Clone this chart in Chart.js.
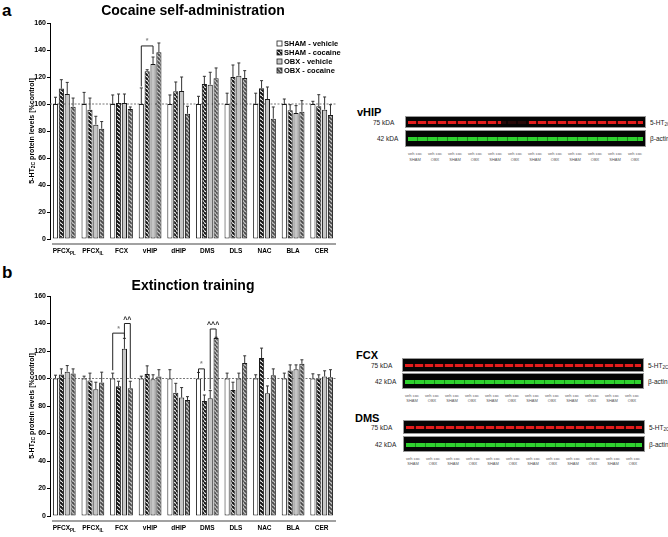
<!DOCTYPE html>
<html>
<head>
<meta charset="utf-8">
<script src="https://cdn.jsdelivr.net/npm/chart.js@4.4.1/dist/chart.umd.min.js"></script>
<style>
  body { margin: 0; width: 668px; height: 537px; background: #fff; position: relative; overflow: hidden;
         font-family: "Liberation Sans", Arial, sans-serif; color: #222; }
  .abs { position: absolute; white-space: nowrap; }
  .letter { font-weight: bold; font-size: 17px; line-height: 17px; color: #000; }
  .btitle { font-weight: bold; font-size: 11px; line-height: 11px; color: #000; }
  .kda { font-size: 6.5px; line-height: 7px; }
  .box { position: absolute; background: #050505; border: 1px solid #999; box-sizing: border-box; }
  .red { position: absolute; left: 2px; right: 2px; height: 3px;
         background: repeating-linear-gradient(90deg, #e41c1c 0 8px, #400 8px 10px); }
  .green { position: absolute; left: 2px; right: 2px; height: 4px;
           background: repeating-linear-gradient(90deg, #2fd12f 0 9px, #178a17 9px 10px); }
  .lane { position: absolute; font-size: 4px; line-height: 5px; color: #555; text-align: center; width: 20px; }
  sub { font-size: 70%; vertical-align: -1px; }
</style>
</head>
<body>
<div class="abs letter" style="left:2px;top:2px">a</div>
<div class="abs letter" style="left:2px;top:264px">b</div>
<canvas id="chartA" width="345" height="262" style="position:absolute;left:0;top:0"></canvas>
<canvas id="chartB" width="345" height="275" style="position:absolute;left:0;top:262px"></canvas>
<div id="blots"></div>

<script>
// Regiões e grupos
const regionNames = ['PFCX', 'PFCX', 'FCX', 'vHIP', 'dHIP', 'DMS', 'DLS', 'NAC', 'BLA', 'CER'];
const regionSubs = ['PL', 'IL', '', '', '', '', '', '', '', ''];
const groupNames = ['SHAM - vehicle', 'SHAM - cocaine', 'OBX - vehicle', 'OBX - cocaine'];

// a) Cocaine self-administration
const selfShamVeh = [100, 100, 100, 100, 100, 100, 100, 100, 100, 100];
const selfShamVehErr = [5, 8.6, 6.7, 11.9, 6.7, 5.7, 8, 8, 3.7, 2];
const selfShamCoc = [111.4, 95.8, 100.7, 124.2, 109.4, 114.8, 120, 111.6, 95.3, 98.3];
const selfShamCocErr = [6.6, 8.6, 6.7, 1.2, 6.9, 5.7, 8.9, 5.7, 4.2, 8.6];
const selfObxVeh = [107.4, 84.7, 100.7, 129.6, 109.6, 114.3, 121, 103.7, 93.3, 95.8];
const selfObxVehErr = [8.6, 6.2, 6.7, 5.2, 10.4, 9.2, 9.4, 8.9, 5.5, 9.4];
const selfObxCoc = [98, 81.7, 96.3, 138.3, 92.8, 119, 119.3, 89.1, 94.3, 91.9];
const selfObxCocErr = [6.4, 5.3, 1.5, 6.9, 5.5, 7.7, 5.4, 8.7, 8.2, 7.6];

// b) Extinction training
const extShamVeh = [100, 100, 100, 100, 100, 100, 100, 100, 100, 100];
const extShamVehErr = [2.4, 1.7, 3.9, 1.7, 6.4, 4.4, 3.9, 2.7, 3.9, 3.4];
const extShamCoc = [103, 98.5, 94.4, 103.2, 89.7, 83.6, 91.7, 114.9, 105.8, 99.8];
const extShamCocErr = [4, 5.4, 3.6, 6, 6.8, 4.4, 5.6, 7.2, 4.1, 2.9];
const extObxVeh = [105, 92.2, 121.6, 99.5, 86.1, 85.6, 100, 89.3, 106.8, 101.5];
const extObxVehErr = [4.4, 5.1, 7.6, 3.2, 7.3, 5.6, 3.9, 5.3, 3.1, 4.1];
const extObxCoc = [103.6, 97.1, 93, 101.5, 84.4, 129.4, 111.2, 102.4, 110.7, 101];
const extObxCocErr = [3.4, 7.5, 5, 4.9, 2.4, 0.6, 5.3, 4.6, 2.9, 5.4];

// Significância: categoria, barras, altura do colchete e das pontas (%control)
const selfBrackets = [
    { cat: 3, from: 0, to: 2, top: 143, leftEnd: 113, rightEnd: 137, mark: '*' }
];
const extBrackets = [
    { cat: 2, from: 0, to: 2, top: 133, leftEnd: 106, rightEnd: 129, mark: '*' },
    { cat: 2, from: 2, to: 3, top: 140, leftEnd: 131, rightEnd: 100, mark: '^^' },
    { cat: 5, from: 0, to: 1, top: 107, leftEnd: 101, rightEnd: 91, mark: '*' },
    { cat: 5, from: 2, to: 3, top: 136, leftEnd: 92, rightEnd: 129, mark: '^^^' }
];

const FONT = '"Liberation Sans", Arial, sans-serif';

// Padrões hachurados
function hatch(bg, fg, size, lw) {
    const c = document.createElement('canvas');
    c.width = size; c.height = size;
    const x = c.getContext('2d');
    x.fillStyle = bg; x.fillRect(0, 0, size, size);
    x.strokeStyle = fg; x.lineWidth = lw;
    x.beginPath();
    for (const k of [-size, 0, size]) { x.moveTo(k, 0); x.lineTo(k + size, size); }
    x.stroke();
    return x.createPattern(c, 'repeat');
}
const fills = [
    '#ffffff',
    hatch('#ffffff', '#111111', 4, 2),
    '#c6c6c6',
    hatch('#c8c8c8', '#4a4a4a', 4, 1.8)
];

function drawYTitle(ctx, x, yc) {
    ctx.save();
    ctx.translate(x, yc);
    ctx.rotate(-Math.PI / 2);
    const big = 'bold 7px ' + FONT, small = 'bold 5px ' + FONT;
    const p1 = '5-HT', p2 = '2C', p3 = ' protein levels [%control]';
    ctx.font = big; const w1 = ctx.measureText(p1).width, w3 = ctx.measureText(p3).width;
    ctx.font = small; const w2 = ctx.measureText(p2).width;
    let cx = -(w1 + w2 + w3) / 2;
    ctx.fillStyle = '#000'; ctx.textBaseline = 'middle'; ctx.textAlign = 'left';
    ctx.font = big; ctx.fillText(p1, cx, 0); cx += w1;
    ctx.font = small; ctx.fillText(p2, cx, 2); cx += w2;
    ctx.font = big; ctx.fillText(p3, cx, 0);
    ctx.restore();
}

function makeDecor(brackets, showLegend) {
    return {
        id: 'prismDecor',
        beforeDatasetsDraw(chart) {
            const { ctx, chartArea, scales } = chart;
            const y = scales.y.getPixelForValue(100);
            ctx.save();
            ctx.strokeStyle = '#777'; ctx.lineWidth = 1; ctx.setLineDash([2, 1.5]);
            ctx.beginPath(); ctx.moveTo(chartArea.left, y); ctx.lineTo(chartArea.right, y); ctx.stroke();
            ctx.restore();
        },
        afterDatasetsDraw(chart) {
            const { ctx, chartArea, scales } = chart;
            const ys = scales.y;
            ctx.save();
            // barras de erro (só para cima)
            ctx.strokeStyle = '#333'; ctx.lineWidth = 1;
            chart.data.datasets.forEach((ds, d) => {
                const meta = chart.getDatasetMeta(d);
                meta.data.forEach((bar, i) => {
                    const yTop = ys.getPixelForValue(ds.data[i]);
                    const yErr = ys.getPixelForValue(ds.data[i] + ds.errors[i]);
                    ctx.beginPath();
                    ctx.moveTo(bar.x, yTop); ctx.lineTo(bar.x, yErr);
                    ctx.moveTo(bar.x - 1.5, yErr); ctx.lineTo(bar.x + 1.5, yErr);
                    ctx.stroke();
                });
            });
            // colchetes de significância
            brackets.forEach(b => {
                const x1 = chart.getDatasetMeta(b.from).data[b.cat].x;
                const x2 = chart.getDatasetMeta(b.to).data[b.cat].x;
                const yt = ys.getPixelForValue(b.top);
                ctx.strokeStyle = '#222'; ctx.lineWidth = 1;
                ctx.beginPath();
                ctx.moveTo(x1, ys.getPixelForValue(b.leftEnd));
                ctx.lineTo(x1, yt); ctx.lineTo(x2, yt);
                ctx.lineTo(x2, ys.getPixelForValue(b.rightEnd));
                ctx.stroke();
                ctx.fillStyle = b.mark === '*' ? '#888' : '#111';
                ctx.font = 'bold 7px ' + FONT;
                ctx.textAlign = 'center'; ctx.textBaseline = 'bottom';
                ctx.fillText(b.mark, (x1 + x2) / 2, yt - (b.mark === '*' ? 1 : 0));
            });
            // eixo x separado e rótulos com subscrito
            const xl = chartArea.bottom + 5;
            ctx.strokeStyle = '#444'; ctx.lineWidth = 1.2;
            ctx.beginPath(); ctx.moveTo(chartArea.left + 2, xl); ctx.lineTo(chartArea.right, xl); ctx.stroke();
            ctx.fillStyle = '#000'; ctx.textBaseline = 'middle'; ctx.textAlign = 'left';
            regionNames.forEach((name, i) => {
                const cx = scales.x.getPixelForValue(i);
                ctx.font = 'bold 6.5px ' + FONT;
                const w1 = ctx.measureText(name).width;
                ctx.font = 'bold 4.5px ' + FONT;
                const w2 = regionSubs[i] ? ctx.measureText(regionSubs[i]).width : 0;
                const x0 = cx - (w1 + w2) / 2, ty = chartArea.bottom + 12.5;
                ctx.font = 'bold 6.5px ' + FONT; ctx.fillText(name, x0, ty);
                if (regionSubs[i]) { ctx.font = 'bold 4.5px ' + FONT; ctx.fillText(regionSubs[i], x0 + w1, ty + 2); }
            });
            drawYTitle(ctx, 32, (chartArea.top + chartArea.bottom) / 2);
            // legenda dentro da área do gráfico
            if (showLegend) {
                chart.data.datasets.forEach((ds, d) => {
                    const ly = 43.5 + d * 9;
                    ctx.fillStyle = ds.backgroundColor;
                    ctx.fillRect(277, ly - 2.5, 5, 5);
                    ctx.strokeStyle = '#222'; ctx.lineWidth = 0.8;
                    ctx.strokeRect(277, ly - 2.5, 5, 5);
                    ctx.fillStyle = '#000'; ctx.font = 'bold 7.5px ' + FONT;
                    ctx.fillText(ds.label, 284, ly);
                });
            }
            ctx.restore();
        }
    };
}

function makeChart(id, title, series, errs, brackets, showLegend, titlePad, padBottom) {
    const ctx = document.getElementById(id).getContext('2d');
    return new Chart(ctx, {
        type: 'bar',
        data: {
            labels: regionNames.map((n, i) => n + regionSubs[i]),
            datasets: series.map((s, d) => ({
                label: groupNames[d],
                data: s,
                errors: errs[d],
                backgroundColor: fills[d],
                borderColor: '#1a1a1a',
                borderWidth: 1,
                borderSkipped: false,
                categoryPercentage: 0.82,
                barPercentage: 0.88
            }))
        },
        options: {
            responsive: false,
            animation: false,
            layout: { padding: { left: 0, right: 9, top: 0, bottom: padBottom } },
            scales: {
                x: { display: false },
                y: {
                    min: 0, max: 160,
                    ticks: { stepSize: 20, color: '#000', padding: 1, font: { family: FONT, size: 7, weight: 'bold' } },
                    grid: { drawOnChartArea: false, drawTicks: true, tickLength: 3, color: '#000' },
                    border: { display: true, color: '#000', width: 1 },
                    afterFit: scale => { scale.width = 50; }
                }
            },
            plugins: {
                legend: { display: false },
                tooltip: { enabled: false },
                title: {
                    display: true, text: title, fullSize: false, color: '#000',
                    font: { family: FONT, size: 14, weight: 'bold' },
                    padding: titlePad
                }
            }
        },
        plugins: [makeDecor(brackets, showLegend)]
    });
}

makeChart('chartA', 'Cocaine self-administration',
    [selfShamVeh, selfShamCoc, selfObxVeh, selfObxCoc],
    [selfShamVehErr, selfShamCocErr, selfObxVehErr, selfObxCocErr],
    selfBrackets, true, { top: 3, bottom: 3.2 }, 23);

makeChart('chartB', 'Extinction training',
    [extShamVeh, extShamCoc, extObxVeh, extObxCoc],
    [extShamVehErr, extShamCocErr, extObxVehErr, extObxCocErr],
    extBrackets, false, { top: 16, bottom: 1.2 }, 21);

// Western blots (imagens, aproximadas com HTML)
function blot(name, t) {
    const host = document.getElementById('blots');
    let h = '';
    h += `<div class="abs btitle" style="left:${t.titleX}px;top:${t.titleY}px">${name}</div>`;
    h += `<div class="abs kda" style="left:${t.kdaX}px;top:${t.redY + t.redH / 2 - 3.5}px">75 kDA</div>`;
    h += `<div class="abs kda" style="left:${t.kdaX + 4}px;top:${t.greenY + t.greenH / 2 - 3.5}px">42 kDA</div>`;
    h += `<div class="box" style="left:${t.x}px;top:${t.redY}px;width:${t.w}px;height:${t.redH}px">` +
         `<div class="red" style="top:${t.redH / 2 - 2.5}px"></div>${t.faint ? '<div style="position:absolute;left:95px;width:28px;top:0;bottom:0;background:rgba(5,5,5,0.85)"></div>' : ''}</div>`;
    h += `<div class="box" style="left:${t.x}px;top:${t.greenY}px;width:${t.w}px;height:${t.greenH}px">` +
         `<div class="green" style="top:${t.greenH / 2 - 2.5}px"></div></div>`;
    h += `<div class="abs kda" style="left:${t.x + t.w + 4}px;top:${t.redY + t.redH / 2 - 3.5}px">5-HT<sub>2C</sub></div>`;
    h += `<div class="abs kda" style="left:${t.x + t.w + 4}px;top:${t.greenY + t.greenH / 2 - 3.5}px">β-actin</div>`;
    for (let p = 0; p < 12; p++) {
        h += `<div class="lane" style="left:${t.x + p * 20}px;top:${t.laneY}px">veh coc</div>`;
        h += `<div class="lane" style="left:${t.x + p * 20}px;top:${t.laneY + 5.5}px">${p % 2 ? 'OBX' : 'SHAM'}</div>`;
    }
    host.insertAdjacentHTML('beforeend', h);
}
blot('vHIP', { titleX: 357, titleY: 107, kdaX: 373, x: 405, w: 241, redY: 116, redH: 12, greenY: 130, greenH: 17, laneY: 151, faint: true });
blot('FCX', { titleX: 356, titleY: 350, kdaX: 371, x: 402, w: 242, redY: 358, redH: 14, greenY: 373, greenH: 16, laneY: 392.5 });
blot('DMS', { titleX: 355, titleY: 413, kdaX: 371, x: 403, w: 242, redY: 420, redH: 14, greenY: 436, greenH: 16, laneY: 455.5 });
</script>
</body>
</html>
